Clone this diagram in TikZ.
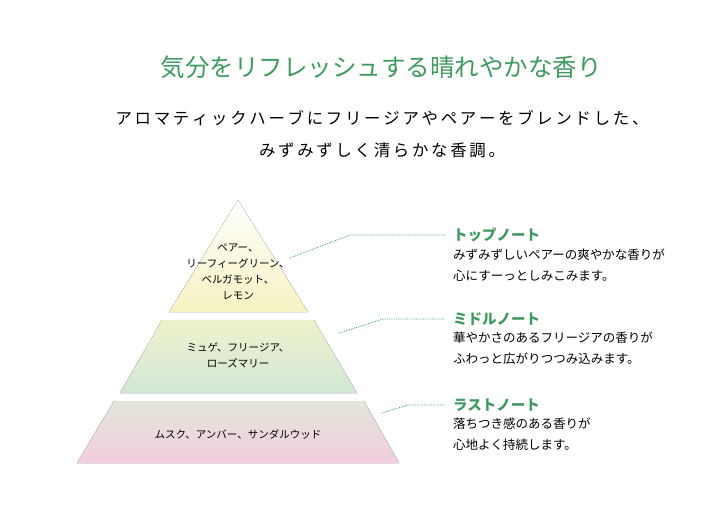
\documentclass[tikz,border=0pt]{standalone}
\usepackage{fontspec}
\newfontfamily\cjk{Noto Sans CJK JP}
\usetikzlibrary{positioning, calc}
\definecolor{leaf}{HTML}{3E9A5E}
\definecolor{topfill}{HTML}{F5F2C2}
\definecolor{midtop}{HTML}{EEF2CC}
\definecolor{midfill}{HTML}{D2E7D6}
\definecolor{basetop}{HTML}{E2E6DA}
\definecolor{basefill}{HTML}{F3CDDF}
\tikzset{
  tier/.style={draw=none},
  dotline/.style={leaf, densely dotted, line width=0.8pt},
  note head/.style={anchor=west, inner sep=0pt, text=leaf, font=\cjk\bfseries\fontsize{14.5}{16}\selectfont},
  note body/.style={anchor=north west, inner sep=0pt, align=left, font=\cjk\fontsize{12.5}{21}\selectfont},
  tier text/.style={align=center, inner sep=0pt, font=\cjk\fontsize{10.5}{16}\selectfont},
}
\begin{document}
\begin{tikzpicture}[x=1pt, y=-1pt]
  \useasboundingbox (0,0) rectangle (720,525);
  % Title
  \node[text=leaf, font=\cjk\fontsize{24.5}{28}\selectfont] (title) at (381,67) {気分をリフレッシュする晴れやかな香り};
  \node[align=center, font=\cjk\fontsize{16.4}{32}\selectfont] (lead) at (382,134)
    {ア\,ロ\,マ\,テ\,ィ\,ッ\,ク\,ハ\,ー\,ブ\,に\,フ\,リ\,ー\,ジ\,ア\,や\,ペ\,ア\,ー\,を\,ブ\,レ\,ン\,ド\,し\,た\,、\\
     み\,ず\,み\,ず\,し\,く\,清\,ら\,か\,な\,香\,調\,。};
  % Pyramid
  \fill[tier, top color=white, bottom color=topfill] (238,200) -- (308,312) -- (169,312) -- cycle;
  \fill[tier, top color=midtop, bottom color=midfill] (162,320) -- (314,320) -- (357,393) -- (120,393) -- cycle;
  \fill[tier, top color=basetop, bottom color=basefill] (114,401) -- (364,401) -- (399,463) -- (77,463) -- cycle;
  \node[tier text] (top) at (238,272) {ペアー、\\リーフィーグリーン、\\ベルガモット、\\レモン};
  \node[tier text] (mid) at (238,355) {ミュゲ、フリージア、\\ローズマリー};
  \node[tier text] (base) at (238,434) {ムスク、アンバー、サンダルウッド};
  % Notes
  \node[note head] (topnote) at (453,235) {トップノート};
  \node[note body] (topbody) at ([yshift=-6pt]topnote.south west) {みずみずしいペアーの爽やかな香りが\\心にすーっとしみこみます。};
  \node[note head] (midnote) at (453,319) {ミドルノート};
  \node[note body] (midbody) at ([yshift=-6pt]midnote.south west) {華やかさのあるフリージアの香りが\\ふわっと広がりつつみ込みます。};
  \node[note head] (lastnote) at (453,405) {ラストノート};
  \node[note body] (lastbody) at ([yshift=-6pt]lastnote.south west) {落ちつき感のある香りが\\心地よく持続します。};
  % Leaders
  \coordinate (t1) at (290,258); \coordinate (t2) at (350,235);
  \coordinate (m1) at (339,333); \coordinate (m2) at (383,319);
  \coordinate (l1) at (382,413); \coordinate (l2) at (408,405);
  \draw[dotline] (t1) -- (t2) -- ([xshift=-8pt]topnote.west);
  \draw[dotline] (m1) -- (m2) -- ([xshift=-8pt]midnote.west);
  \draw[dotline] (l1) -- (l2) -- ([xshift=-8pt]lastnote.west);
\end{tikzpicture}
\end{document}
